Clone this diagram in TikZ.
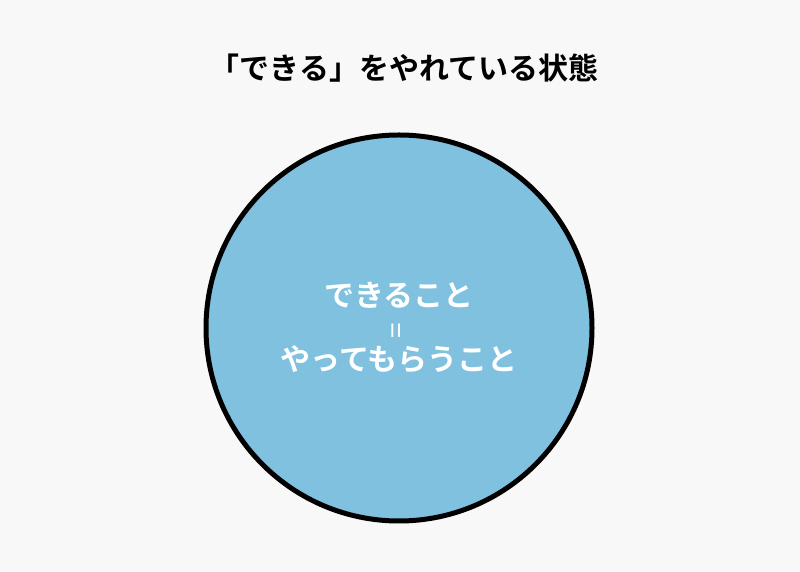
\documentclass[tikz,border=0pt]{standalone}
\usepackage{fontspec}
\setmainfont{Noto Sans CJK JP}[BoldFont={Noto Sans CJK JP Bold}]
\usepackage{tikz}
\definecolor{PoolBlue}{HTML}{80C1DF}
\definecolor{PaperGray}{HTML}{F8F8F8}

\begin{document}
\begin{tikzpicture}[x=1pt,y=1pt,thick]
        \fill[PaperGray] (0,0) rectangle (800,572);
        \useasboundingbox (0,0) rectangle (800,572);
        \node[font=\bfseries\fontsize{30}{34}\selectfont] (title) at (404,504) {「できる」をやれている状態};
        \node[draw,circle,line width=5pt,fill=PoolBlue,minimum size=386pt,inner sep=0pt,
              text=white,align=center,font=\bfseries\fontsize{30}{32}\selectfont] (pool) at (399,244)
              {できること\\[0pt]{\mdseries\fontsize{28}{28}\selectfont\rotatebox{90}{=}}\\[0pt]やってもらうこと};
    \end{tikzpicture}
\end{document}
